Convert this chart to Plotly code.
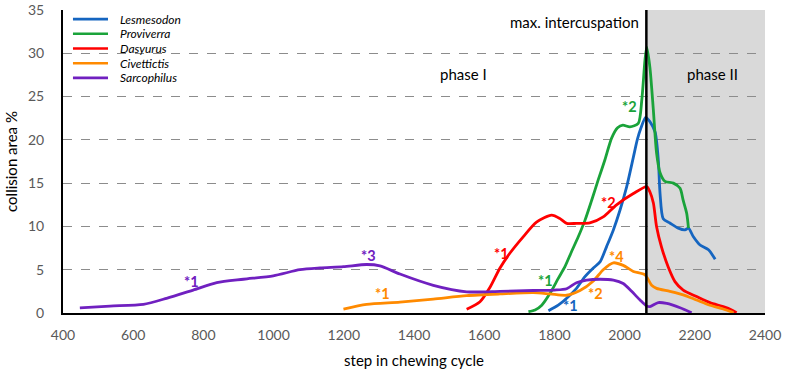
import plotly.graph_objects as go

# ---------------- data ----------------
lesmesodon_x = [1783, 1811, 1835, 1863, 1887, 1911, 1930, 1949, 1968, 1987, 2006, 2025, 2036, 2046, 2060,
                2072, 2087, 2096, 2101, 2110, 2129, 2153, 2172, 2182, 2196, 2215, 2239, 2258]
lesmesodon_y = [0.27, 0.9, 1.7, 2.85, 4.2, 5.2, 5.9, 7.7, 9.6, 11.9, 14.6, 18.0, 20.0, 21.3, 22.6,
                22.1, 20.9, 17.7, 13.8, 10.9, 10.4, 9.8, 9.6, 9.8, 8.8, 7.85, 7.3, 6.2]

proviverra_x = [1726, 1745, 1764, 1788, 1811, 1830, 1849, 1868, 1887, 1906, 1925, 1944, 1963, 1980, 1995,
                2015, 2039, 2049, 2058, 2063, 2072, 2082, 2091, 2101, 2115, 2139, 2158, 2167, 2177, 2182]
proviverra_y = [0.15, 0.35, 0.9, 2.3, 4.0, 5.35, 7.1, 8.8, 10.7, 13.0, 15.4, 17.7, 20.2, 21.4, 21.7,
                21.5, 21.9, 24.6, 29.2, 30.7, 28.4, 23.4, 18.5, 16.2, 15.2, 15.0, 14.4, 13.0, 11.5, 9.8]

dasyurus_x = [1550, 1588, 1617, 1645, 1673, 1711, 1749, 1792, 1816, 1835, 1863, 1901, 1939, 1977, 2025,
              2063, 2072, 2082, 2091, 2105, 2124, 2144, 2167, 2205, 2243, 2281, 2305, 2319]
dasyurus_y = [0.43, 1.3, 3.0, 5.2, 6.9, 8.8, 10.5, 11.3, 10.9, 10.35, 10.35, 10.4, 11.1, 12.5, 13.8,
              14.6, 14.0, 12.7, 10.0, 7.65, 5.35, 3.6, 2.65, 1.9, 1.2, 0.73, 0.35, 0.03]

civettictis_x = [1199, 1265, 1360, 1455, 1550, 1645, 1740, 1788, 1835, 1873, 1911, 1939, 1968, 1996, 2025,
                 2058, 2077, 2091, 2129, 2167, 2205, 2243, 2281, 2310]
civettictis_y = [0.46, 1.0, 1.25, 1.6, 2.0, 2.2, 2.35, 2.2, 2.05, 2.6, 3.7, 5.0, 5.8, 5.5, 4.8,
                 4.4, 3.2, 2.85, 2.5, 2.1, 1.5, 0.9, 0.46, 0.05]

sarcophilus_x = [448, 534, 629, 695, 771, 838, 914, 999, 1075, 1132, 1199, 1265, 1303, 1360, 1455, 1550,
                 1645, 1740, 1800, 1835, 1863, 1892, 1930, 1968, 1996, 2020, 2044, 2063, 2072, 2096, 2120,
                 2158, 2191]
sarcophilus_y = [0.6, 0.8, 1.0, 1.7, 2.65, 3.5, 3.9, 4.3, 5.0, 5.2, 5.35, 5.6, 5.45, 4.5, 3.2, 2.45,
                 2.5, 2.6, 2.65, 2.8, 3.5, 3.8, 3.9, 3.8, 3.4, 2.5, 1.5, 0.8, 0.73, 1.2, 1.1,
                 0.6, 0.03]

series_names = ["Lesmesodon", "Proviverra", "Dasyurus", "Civettictis", "Sarcophilus"]
series_colors = ["#1565c0", "#1aa33a", "#ff0000", "#ff8a00", "#7020c0"]

# marker labels (text, x, y, series index)
mark_text = ["*1", "*3", "*1", "*1", "*1", "*1", "*2", "*4", "*2", "*2"]
mark_x = [765, 1269, 1309, 1648, 1776, 1847, 1916, 1978, 1953, 2015]
mark_y = [3.6, 6.7, 2.2, 6.9, 3.8, 0.9, 2.3, 6.5, 12.8, 23.8]
mark_series = [4, 4, 3, 2, 1, 0, 3, 3, 2, 1]

x_ticks = [400, 600, 800, 1000, 1200, 1400, 1600, 1800, 2000, 2200, 2400]
y_ticks = [0, 5, 10, 15, 20, 25, 30, 35]
grid_vals = [5, 10, 15, 20, 25, 30]
max_intercuspation = 2062

FONT = "Lato"

fig = go.Figure()
all_x = [lesmesodon_x, proviverra_x, dasyurus_x, civettictis_x, sarcophilus_x]
all_y = [lesmesodon_y, proviverra_y, dasyurus_y, civettictis_y, sarcophilus_y]
for name, col, xs, ys in zip(series_names, series_colors, all_x, all_y):
    fig.add_trace(go.Scatter(x=xs, y=ys, mode="lines", name=name, showlegend=False,
                             line=dict(color=col, width=2.8, shape="spline", smoothing=0.7)))

# phase II shading and max intercuspation line
fig.add_shape(type="rect", xref="x", yref="y", x0=max_intercuspation, x1=x_ticks[-1],
              y0=0, y1=y_ticks[-1], fillcolor="#d9d9d9", line=dict(width=0), layer="below")
fig.add_shape(type="line", xref="x", yref="y", x0=max_intercuspation, x1=max_intercuspation,
              y0=0, y1=y_ticks[-1], line=dict(color="black", width=2.5), layer="above")

# manual legend (compact rows like the reference)
leg_top = 0.970
leg_step = 0.0485
for i, (name, col) in enumerate(zip(series_names, series_colors)):
    yy = leg_top - i * leg_step
    fig.add_shape(type="line", xref="paper", yref="paper", x0=0.0142, x1=0.0641, y0=yy, y1=yy,
                  line=dict(color=col, width=2.6), layer="above")
    fig.add_annotation(xref="paper", yref="paper", x=0.0783, y=yy, text="<i>" + name + "</i>",
                       showarrow=False, xanchor="left", yanchor="middle",
                       font=dict(family=FONT, size=12, color="black"))

for t, x, y, s in zip(mark_text, mark_x, mark_y, mark_series):
    fig.add_annotation(x=x, y=y, text="<b>" + t + "</b>", showarrow=False,
                       font=dict(family=FONT, size=14.5, color=series_colors[s]))

fig.add_annotation(x=max_intercuspation, y=33.6, text="max. intercuspation", showarrow=False,
                   xanchor="right", xshift=-5, font=dict(family=FONT, size=15, color="black"))
fig.add_annotation(x=1540, y=27.6, text="phase I", showarrow=False,
                   font=dict(family=FONT, size=15, color="black"))
fig.add_annotation(x=2249, y=27.6, text="phase II", showarrow=False,
                   font=dict(family=FONT, size=15, color="black"))

fig.update_layout(
    width=800, height=372,
    margin=dict(l=63, r=35, t=10, b=59, autoexpand=False),
    plot_bgcolor="white", paper_bgcolor="white",
    font=dict(family=FONT),
    showlegend=False,
    xaxis=dict(range=[x_ticks[0], x_ticks[-1]], tickvals=x_ticks, showgrid=False, zeroline=False,
               showline=True, linecolor="black", linewidth=2, ticks="", automargin=False,
               ticklabelstandoff=8,
               tickfont=dict(family=FONT, size=14, color="#595959"),
               title=dict(text="step in chewing cycle", standoff=14,
                          font=dict(family=FONT, size=15, color="black"))),
    yaxis=dict(range=[y_ticks[0], y_ticks[-1]], tickvals=y_ticks, showgrid=False, zeroline=False,
               showline=True, linecolor="black", linewidth=2, ticks="", automargin=False,
               ticklabelstandoff=14,
               tickfont=dict(family=FONT, size=14, color="#595959"),
               minor=dict(tickmode="array", tickvals=grid_vals, showgrid=True,
                          gridcolor="#8c8c8c", gridwidth=1, griddash="dash", ticks=""),
               title=dict(text="collision area %", standoff=7,
                          font=dict(family=FONT, size=15, color="black"))),
)

# remove the default 8px page margin so the 800x372 figure fills the window exactly
fig.write_html("out.html", config={"displayModeBar": False},
               post_script="document.body.style.margin='0';")
